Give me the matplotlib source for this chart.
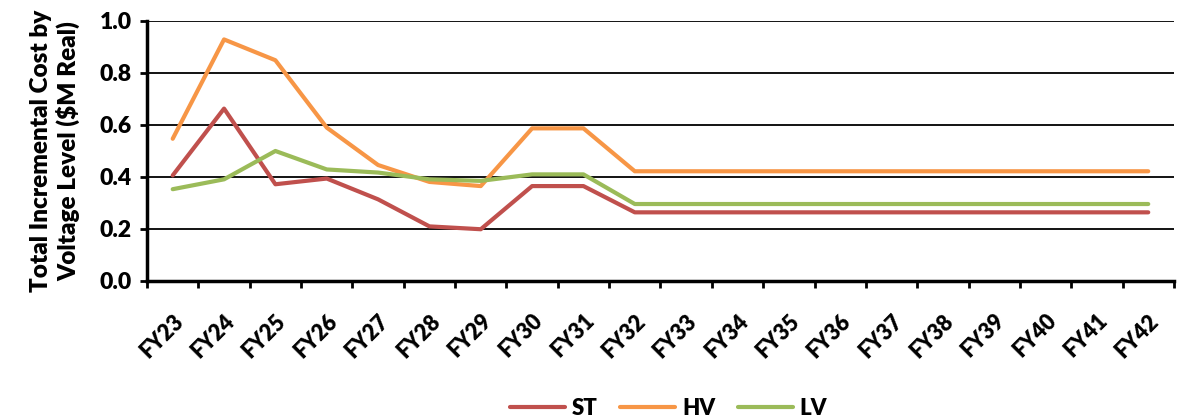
import numpy as np
import matplotlib.pyplot as plt

years = ['FY23', 'FY24', 'FY25', 'FY26', 'FY27', 'FY28', 'FY29', 'FY30', 'FY31', 'FY32',
         'FY33', 'FY34', 'FY35', 'FY36', 'FY37', 'FY38', 'FY39', 'FY40', 'FY41', 'FY42']
st = [0.406, 0.663, 0.372, 0.394, 0.314, 0.210, 0.199, 0.365, 0.365, 0.264,
      0.264, 0.264, 0.264, 0.264, 0.264, 0.264, 0.264, 0.264, 0.264, 0.264]
hv = [0.547, 0.929, 0.849, 0.590, 0.446, 0.381, 0.365, 0.587, 0.587, 0.422,
      0.422, 0.422, 0.422, 0.422, 0.422, 0.422, 0.422, 0.422, 0.422, 0.422]
lv = [0.353, 0.391, 0.500, 0.429, 0.417, 0.391, 0.385, 0.410, 0.410, 0.296,
      0.296, 0.296, 0.296, 0.296, 0.296, 0.296, 0.296, 0.296, 0.296, 0.296]

plt.rcParams['font.family'] = ['Lato', 'DejaVu Sans']
plt.rcParams['font.weight'] = 'heavy'
plt.rcParams['axes.labelweight'] = 'heavy'

fig = plt.figure(figsize=(11.81, 4.18), dpi=100)
ax = fig.add_axes([0.1245, 0.3278, 0.8695, 0.622])

x = np.arange(len(years))
ax.plot(x, st, color='#C0504D', lw=3, label='ST', solid_capstyle='round')
ax.plot(x, hv, color='#F79646', lw=3, label='HV', solid_capstyle='round')
ax.plot(x, lv, color='#9BBB59', lw=3, label='LV', solid_capstyle='round')

ax.set_xlim(-0.5, len(years) - 0.5)
ax.set_ylim(0, 1.0)
ax.set_yticks(np.arange(0, 1.01, 0.2))
ax.set_yticklabels(['%.1f' % v for v in np.arange(0, 1.01, 0.2)])
ax.yaxis.grid(True, color='black', lw=1.3)
ax.set_axisbelow(True)

# ticks at category boundaries, labels at centres
ax.set_xticks(np.arange(-0.5, len(years)), minor=False)
ax.set_xticklabels([])
ax.set_xticks(x, minor=True)
ax.set_xticklabels(years, minor=True, rotation=45, ha='right', va='top',
                   rotation_mode='anchor', fontsize=15.5)
ax.tick_params(axis='x', which='minor', length=0, pad=21)
ax.tick_params(axis='x', which='major', length=5, width=2, direction='out')
ax.tick_params(axis='y', length=5, width=2, labelsize=16.5, pad=6)

for s in ['top', 'right']:
    ax.spines[s].set_visible(False)
ax.spines['left'].set_linewidth(2.5)
ax.spines['bottom'].set_linewidth(2.5)

ax.set_ylabel('Total Incremental Cost by\nVoltage Level ($M Real)', fontsize=17.5,
              labelpad=14, linespacing=1.2)

fig.legend(loc='lower center', ncol=3, frameon=False, fontsize=16,
           bbox_to_anchor=(0.566, -0.05), handlelength=2.5, columnspacing=1.0,
           handletextpad=0.3)

fig.savefig('out.png', dpi=100)
